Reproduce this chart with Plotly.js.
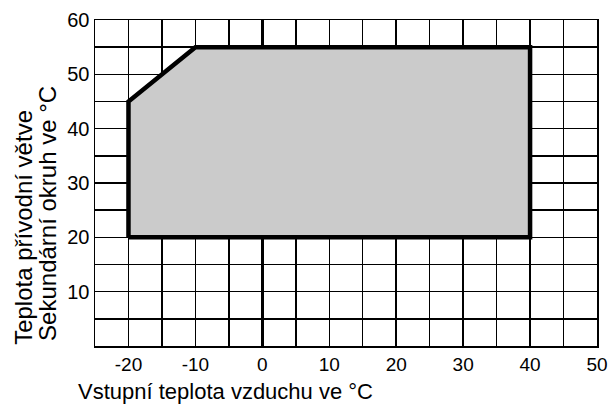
<!DOCTYPE html>
<html>
<head>
<meta charset="utf-8">
<script src="https://cdn.plot.ly/plotly-3.0.1.min.js"></script>
<style>html,body{margin:0;padding:0;background:#fff;}#chart{width:608px;height:405px;}</style>
</head>
<body>
<div id="chart"></div>
<script>
// Operating envelope (outline of the grey region)
const envelopeX = [-20, -20, -10, 40, 40, -20];
const envelopeY = [20, 45, 55, 55, 20, 20];

const xTickVals = [-20, -10, 0, 10, 20, 30, 40, 50];
const yTickVals = [10, 20, 30, 40, 50, 60];
const xRange = [-25, 50];
const yRange = [0, 60];

const xTitle = "Vstupní teplota vzduchu ve °C";
const yTitle1 = "Teplota přívodní větve";
const yTitle2 = "Sekundární okruh ve °C";

const FONT = "Liberation Sans, Arial, Helvetica, sans-serif";
const TICK_SIZE = 20;
const XTICK_SIZE = 19;
const XTITLE_SIZE = 22;
const YTITLE_SIZE = 24;

const trace = {
  x: envelopeX,
  y: envelopeY,
  mode: "lines",
  fill: "toself",
  fillcolor: "#cbcbcb",
  line: {color: "#000", width: 4.5},
  hoverinfo: "skip",
  showlegend: false
};

const axisCommon = {
  showgrid: true,
  gridcolor: "#000",
  gridwidth: 1.5,
  showline: true,
  linecolor: "#000",
  linewidth: 1.5,
  mirror: true,
  ticks: "",
  tickmode: "array",
  fixedrange: true,
  ticklabeloverflow: "allow",
  tickfont: {family: FONT, size: TICK_SIZE, color: "#000"},
  minor: {dtick: 5, showgrid: true, gridcolor: "#000", gridwidth: 1.5, ticks: ""}
};

const layout = {
  width: 608,
  height: 405,
  margin: {l: 95, r: 11, t: 20, b: 59},
  paper_bgcolor: "#fff",
  plot_bgcolor: "#fff",
  font: {family: FONT, size: TICK_SIZE, color: "#000"},
  xaxis: Object.assign({}, axisCommon, {
    range: xRange,
    tickvals: xTickVals,
    ticktext: xTickVals.map(String),
    tickfont: {family: FONT, size: XTICK_SIZE, color: "#000"},
    ticklabelstandoff: 1,
    zeroline: true,
    zerolinecolor: "#000",
    zerolinewidth: 3,
    minor: Object.assign({}, axisCommon.minor, {tick0: -25})
  }),
  yaxis: Object.assign({}, axisCommon, {
    range: yRange,
    tickvals: yTickVals,
    ticktext: yTickVals.map(String),
    zeroline: false,
    minor: Object.assign({}, axisCommon.minor, {tick0: 0})
  }),
  annotations: [
    {text: xTitle, xref: "paper", yref: "paper", x: -0.036, y: -0.1805,
     xanchor: "left", yanchor: "bottom", borderpad: 0, showarrow: false,
     font: {family: FONT, size: XTITLE_SIZE, color: "#000"}},
    {text: yTitle1, xref: "paper", yref: "paper", x: -0.1414, y: -0.004,
     xanchor: "center", yanchor: "bottom", textangle: -90, showarrow: false,
     font: {family: FONT, size: YTITLE_SIZE, color: "#000"}},
    {text: yTitle2, xref: "paper", yref: "paper", x: -0.0936, y: 0.008,
     xanchor: "center", yanchor: "bottom", textangle: -90, showarrow: false,
     font: {family: FONT, size: YTITLE_SIZE, color: "#000"}}
  ]
};

Plotly.newPlot("chart", [trace], layout, {displayModeBar: false, staticPlot: true});
</script>
</body>
</html>
